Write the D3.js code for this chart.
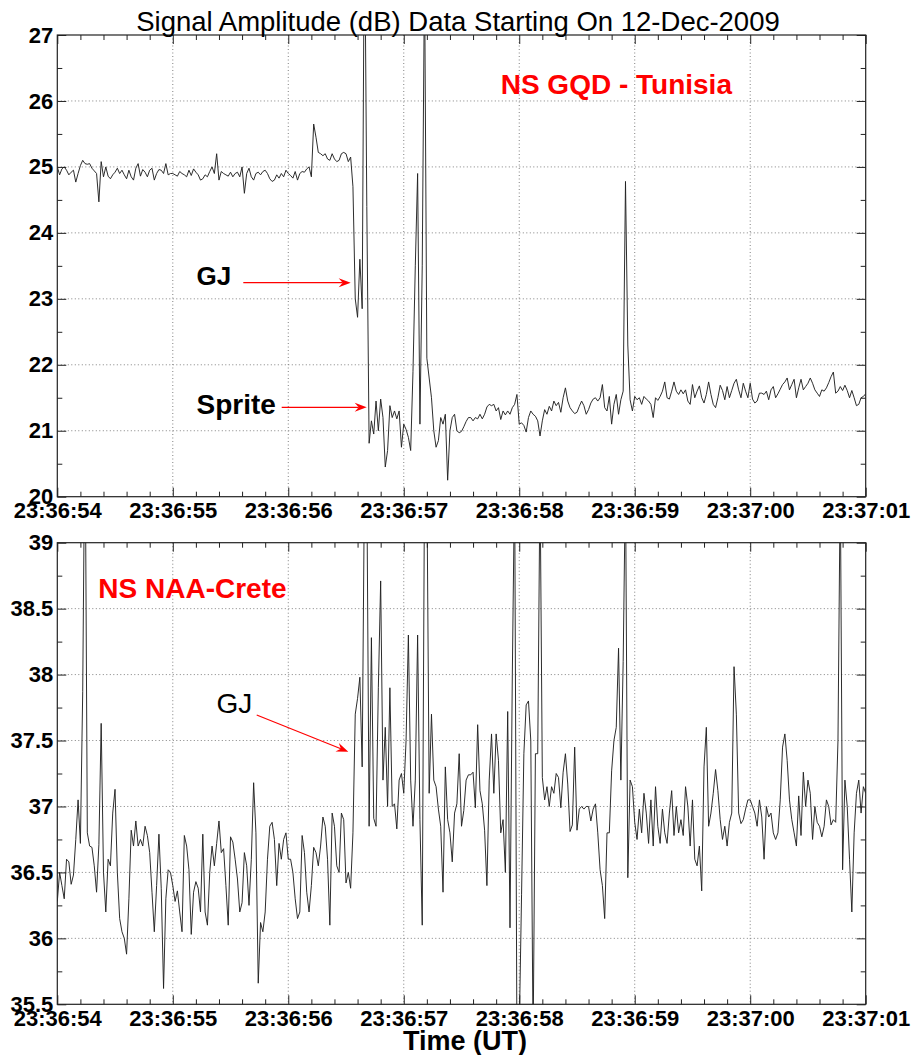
<!DOCTYPE html>
<html><head><meta charset="utf-8">
<script src="https://cdn.jsdelivr.net/npm/d3@7"></script>
<style>
body{margin:0;background:#fff}
svg{display:block}
</style>
</head><body>
<svg id="chart" width="912" height="1055"></svg>
<script>
// ---------------- DATA ----------------
const timeLabels = ["23:36:54","23:36:55","23:36:56","23:36:57","23:36:58","23:36:59","23:37:00","23:37:01"];
const timeTicks = [0,1,2,3,4,5,6,7];           // seconds after 23:36:54
const sampleStep = 0.02;                        // seconds between samples
const topYTicks = [20,21,22,23,24,25,26,27];
const botYTicks = [35.5,36,36.5,37,37.5,38,38.5,39];
const botYTickLabels = ["35.5","36","36.5","37","37.5","38","38.5","39"];

// NS GQD - Tunisia (dB), one array per second
const gqd0 = [25.0,24.88,24.97,25.0,24.95,24.88,24.92,24.95,24.77,24.9,25.02,25.1,25.05,25.04,25.05,24.98,24.94,24.9,24.47,25.08,24.85,25.0,24.86,24.82,24.88,24.92,24.98,24.9,24.95,24.88,24.82,24.95,24.85,24.8,24.98,25.05,24.86,24.96,24.92,24.85,24.95,24.98,24.8,24.9,24.96,24.95,24.9,25.05,24.88,24.9];
const gqd1 = [24.9,24.88,24.86,24.93,24.9,24.88,24.85,24.95,24.87,24.97,24.92,24.88,24.8,24.82,24.88,24.85,24.93,25.0,24.9,25.2,24.8,24.93,24.9,24.88,24.86,24.92,24.85,24.9,24.92,24.85,25.0,24.6,24.9,24.98,24.85,24.8,24.9,24.92,24.88,24.93,24.95,24.9,24.82,24.78,24.8,24.88,24.83,24.9,24.85,24.95];
const gqd2 = [24.9,24.87,24.83,24.93,24.8,24.9,24.93,24.92,24.97,25.0,24.85,25.65,25.45,25.22,25.2,25.17,25.2,25.12,25.1,25.2,25.12,25.08,25.1,25.2,25.22,25.2,25.08,25.15,24.7,23.0,22.72,23.6,22.85,29.0,24.4,20.81,21.15,20.95,21.45,21.0,21.48,21.2,20.45,20.7,21.38,21.2,21.3,21.18,21.3,20.75];
const gqd3 = [21.1,21.02,20.9,20.7,21.9,23.5,24.9,21.1,23.5,28.0,22.1,21.8,21.5,21.0,20.75,20.85,21.2,21.1,21.25,20.25,21.0,21.2,21.25,21.0,20.97,20.99,21.06,21.14,21.2,21.2,21.15,21.2,21.18,21.25,21.18,21.25,21.36,21.4,21.38,21.4,21.3,21.35,21.17,21.3,21.24,21.3,21.25,21.35,21.4,21.55];
const gqd4 = [21.1,21.12,21.08,20.98,21.2,21.3,21.25,21.22,21.15,20.92,21.15,21.32,21.25,21.37,21.3,21.45,21.38,21.43,21.28,21.5,21.65,21.45,21.35,21.3,21.26,21.28,21.37,21.45,21.38,21.25,21.32,21.42,21.48,21.5,21.45,21.5,21.7,21.35,21.3,21.52,21.1,21.4,21.55,21.25,21.47,21.6,24.78,22.3,21.47,21.3];
const gqd5 = [21.52,21.47,21.5,21.4,21.52,21.48,21.45,21.4,21.2,21.5,21.46,21.52,21.6,21.74,21.5,21.48,21.6,21.74,21.6,21.55,21.62,21.56,21.62,21.45,21.4,21.7,21.5,21.6,21.68,21.5,21.42,21.55,21.74,21.55,21.4,21.35,21.5,21.69,21.61,21.47,21.67,21.5,21.61,21.72,21.78,21.62,21.5,21.72,21.6,21.5];
const gqd6 = [21.72,21.48,21.42,21.45,21.57,21.57,21.55,21.6,21.47,21.62,21.67,21.5,21.56,21.63,21.7,21.74,21.8,21.62,21.7,21.78,21.5,21.65,21.78,21.62,21.67,21.72,21.8,21.72,21.62,21.57,21.52,21.62,21.6,21.65,21.73,21.82,21.89,21.57,21.6,21.67,21.61,21.69,21.61,21.5,21.61,21.5,21.38,21.4,21.5,21.52,21.56];

// NS NAA - Crete (dB), one array per second
const naa0 = [36.28,36.5,36.4,36.3,36.6,36.58,36.41,36.48,36.75,37.05,36.72,37.87,40.0,36.8,36.7,36.69,36.55,36.35,36.71,37.63,36.5,36.2,36.6,36.55,36.95,37.13,36.5,36.15,36.05,36.0,35.88,36.3,36.82,36.7,36.89,36.7,36.75,36.7,36.85,36.78,36.65,36.35,36.05,36.4,36.79,36.38,35.62,36.3,36.52,36.5];
const naa1 = [36.4,36.28,36.36,36.2,36.05,36.78,36.7,36.52,36.03,36.35,36.43,36.38,36.2,36.79,36.2,36.1,36.5,36.7,36.55,36.72,36.89,36.65,36.68,36.4,36.1,36.77,36.73,36.6,36.45,36.2,36.27,36.65,36.55,36.25,36.6,37.18,36.8,35.66,36.12,36.05,36.2,36.6,36.85,36.88,36.75,36.4,36.72,36.6,36.75,36.8];
const naa2 = [36.6,36.6,36.5,36.3,36.15,36.2,36.78,36.65,36.35,36.2,36.4,36.69,36.65,36.55,36.7,36.92,36.85,36.6,36.1,36.95,36.85,36.55,36.5,36.95,36.9,36.42,36.5,36.38,36.8,37.7,37.82,37.98,37.3,39.5,39.5,36.85,38.28,36.91,36.85,37.9,38.71,37.2,37.6,37.0,37.9,37.0,37.02,36.83,37.2,37.25];
const naa3 = [37.1,37.5,38.3,37.2,36.85,37.2,38.3,36.9,36.1,39.5,39.5,37.1,37.7,37.2,37.15,36.98,36.85,36.35,37.3,36.9,36.8,36.58,36.95,37.02,37.4,36.85,36.97,37.2,37.24,37.24,37.26,36.99,37.62,37.12,37.02,36.82,36.4,37.2,37.55,37.1,37.55,37.35,36.8,36.9,36.5,37.72,36.08,38.0,39.5,35.2];
const naa4 = [35.3,36.33,37.4,37.77,37.8,37.5,35.2,37.4,37.4,39.5,37.22,37.05,37.15,37.0,37.15,37.1,37.25,37.22,36.99,37.26,37.4,37.17,36.81,36.86,37.45,36.82,36.98,37.0,36.98,37.0,37.0,36.89,36.98,37.02,36.8,36.52,36.4,36.15,36.8,36.8,37.27,37.5,37.6,38.2,37.2,38.1,39.5,36.46,37.2,37.15];
const naa5 = [36.88,36.75,36.98,36.8,37.1,36.95,36.72,37.05,36.7,37.15,36.85,36.72,36.98,36.8,36.72,36.95,37.12,36.78,37.0,36.8,36.9,36.78,37.15,37.0,36.7,37.05,36.6,36.55,36.7,36.36,37.3,37.6,36.85,36.95,37.1,37.28,37.12,36.9,36.75,36.85,36.7,36.88,36.95,38.06,37.7,36.95,36.87,36.9,36.98,37.05];
const naa6 = [37.05,37.0,36.95,36.85,37.05,36.92,36.6,37.0,36.92,36.95,36.8,36.75,36.8,37.05,37.45,37.55,37.35,37.05,36.9,36.8,36.7,37.08,36.78,37.26,37.0,37.2,37.1,36.75,37.0,36.88,36.85,36.77,36.85,37.05,37.0,36.86,36.9,36.88,37.5,39.5,36.52,37.2,37.0,36.6,36.2,36.8,37.1,37.2,36.95,37.15,37.1];

const gqd = [].concat(gqd0,gqd1,gqd2,gqd3,gqd4,gqd5,gqd6);
const naa = [].concat(naa0,naa1,naa2,naa3,naa4,naa5,naa6);

// ---------------- DRAWING ----------------
const FONT = "'Liberation Sans', Arial, Helvetica, sans-serif";
const svg = d3.select("#chart");
const x = d3.scaleLinear().domain([0,7]).range([57.3, 865.7]);
const xMinor = d3.range(0, 7.0001, 0.2).filter(v => Math.abs(v - Math.round(v)) > 1e-6);

function drawPanel(opt) {
  const y = d3.scaleLinear().domain(opt.domain).range(opt.range);
  const top = opt.range[1], bottom = opt.range[0];
  const left = x.range()[0], right = x.range()[1];
  const g = svg.append("g");

  // grid (dotted)
  g.append("g").selectAll("line").data(timeTicks.slice(1,-1)).join("line")
    .attr("x1", d => x(d)).attr("x2", d => x(d)).attr("y1", top).attr("y2", bottom)
    .attr("stroke", "#808080").attr("stroke-width", 1).attr("stroke-dasharray", "1,2.5");
  g.append("g").selectAll("line").data(opt.yTicks.slice(1,-1)).join("line")
    .attr("y1", d => y(d)).attr("y2", d => y(d)).attr("x1", left).attr("x2", right)
    .attr("stroke", "#808080").attr("stroke-width", 1).attr("stroke-dasharray", "1,2.5");

  // data
  g.append("clipPath").attr("id", opt.clip).append("rect")
    .attr("x", left).attr("y", top).attr("width", right - left).attr("height", bottom - top);
  const line = d3.line().x((d,i) => x(i * sampleStep)).y(d => y(d));
  g.append("path").datum(opt.data).attr("clip-path", `url(#${opt.clip})`)
    .attr("d", line).attr("fill", "none").attr("stroke", "#222").attr("stroke-width", 0.95)
    .attr("stroke-linejoin", "round");

  const styleAxis = sel => {
    sel.select(".domain").remove();
    sel.selectAll("line").attr("stroke", "#222");
    sel.attr("font-family", FONT).attr("font-size", 22).attr("font-weight", "bold");
    sel.selectAll("text").attr("fill", "#000");
  };
  // bottom axis: major with labels, minor
  g.append("g").attr("transform", `translate(0,${bottom})`)
    .call(d3.axisBottom(x).tickValues(timeTicks).tickSize(-9).tickPadding(6).tickFormat((d,i) => timeLabels[i]))
    .call(styleAxis);
  g.append("g").attr("transform", `translate(0,${bottom})`)
    .call(d3.axisBottom(x).tickValues(xMinor).tickSize(-5).tickFormat(""))
    .call(styleAxis);
  // top axis (ticks only)
  g.append("g").attr("transform", `translate(0,${top})`)
    .call(d3.axisTop(x).tickValues(timeTicks).tickSize(-9).tickFormat(""))
    .call(styleAxis);
  g.append("g").attr("transform", `translate(0,${top})`)
    .call(d3.axisTop(x).tickValues(xMinor).tickSize(-5).tickFormat(""))
    .call(styleAxis);
  // left axis with labels
  g.append("g").attr("transform", `translate(${left},0)`)
    .call(d3.axisLeft(y).tickValues(opt.yTicks).tickSize(-9).tickPadding(4).tickFormat((d,i) => opt.yLabels[i]))
    .call(styleAxis);
  g.append("g").attr("transform", `translate(${left},0)`)
    .call(d3.axisLeft(y).tickValues(opt.yMinor).tickSize(-5).tickFormat(""))
    .call(styleAxis);
  // right axis (ticks only)
  g.append("g").attr("transform", `translate(${right},0)`)
    .call(d3.axisRight(y).tickValues(opt.yTicks).tickSize(-9).tickFormat(""))
    .call(styleAxis);
  g.append("g").attr("transform", `translate(${right},0)`)
    .call(d3.axisRight(y).tickValues(opt.yMinor).tickSize(-5).tickFormat(""))
    .call(styleAxis);

  // frame
  g.append("rect").attr("x", left).attr("y", top).attr("width", right - left).attr("height", bottom - top)
    .attr("fill", "none").attr("stroke", "#222").attr("stroke-width", 1.2);
  return y;
}

const yTop = drawPanel({
  domain: [20,27], range: [496.7, 35], yTicks: topYTicks, yLabels: topYTicks.map(String),
  yMinor: d3.range(20.5, 27, 1), data: gqd, clip: "clipTop"
});
const yBot = drawPanel({
  domain: [35.5,39], range: [1004.3, 542.7], yTicks: botYTicks, yLabels: botYTickLabels,
  yMinor: d3.range(35.75, 39, 0.5), data: naa, clip: "clipBot"
});

// title & axis label
svg.append("text").attr("x", 458).attr("y", 31).attr("text-anchor", "middle")
  .attr("font-family", FONT).attr("font-size", 27.5).attr("fill", "#000")
  .text("Signal Amplitude (dB) Data Starting On 12-Dec-2009");
svg.append("text").attr("x", 465).attr("y", 1050).attr("text-anchor", "middle")
  .attr("font-family", FONT).attr("font-size", 27).attr("font-weight", "bold").attr("fill", "#000")
  .text("Time (UT)");

// annotations
function label(txt, xx, yy, size, color, weight) {
  svg.append("text").attr("x", xx).attr("y", yy).attr("font-family", FONT)
    .attr("font-size", size).attr("font-weight", weight).attr("fill", color).text(txt);
}
label("NS GQD - Tunisia", 500.7, 94.3, 28, "#ff0000", "bold");
label("NS NAA-Crete", 98.3, 598.3, 28, "#ff0000", "bold");
label("GJ", 196.5, 285, 26, "#000", "bold");
label("Sprite", 196.5, 414.3, 28, "#000", "bold");
label("GJ", 216.5, 712.7, 28, "#000", "normal");

function arrow(x1, y1, x2, y2) {
  const ang = Math.atan2(y2 - y1, x2 - x1);
  const L = 12, Wd = 4.5, notch = 4;
  const bx = x2 - L * Math.cos(ang), by = y2 - L * Math.sin(ang);
  const nx = x2 - (L - notch) * Math.cos(ang), ny = y2 - (L - notch) * Math.sin(ang);
  const px = -Math.sin(ang) * Wd, py = Math.cos(ang) * Wd;
  svg.append("line").attr("x1", x1).attr("y1", y1).attr("x2", nx).attr("y2", ny)
    .attr("stroke", "#ff0000").attr("stroke-width", 1.2);
  svg.append("path")
    .attr("d", `M${x2},${y2}L${bx + px},${by + py}L${nx},${ny}L${bx - px},${by - py}Z`)
    .attr("fill", "#ff0000");
}
arrow(243.3, 282.7, 350.7, 282.7);
arrow(281.7, 407.3, 366.7, 407.3);
arrow(256.7, 715, 348.3, 751.7);
</script>
</body></html>
